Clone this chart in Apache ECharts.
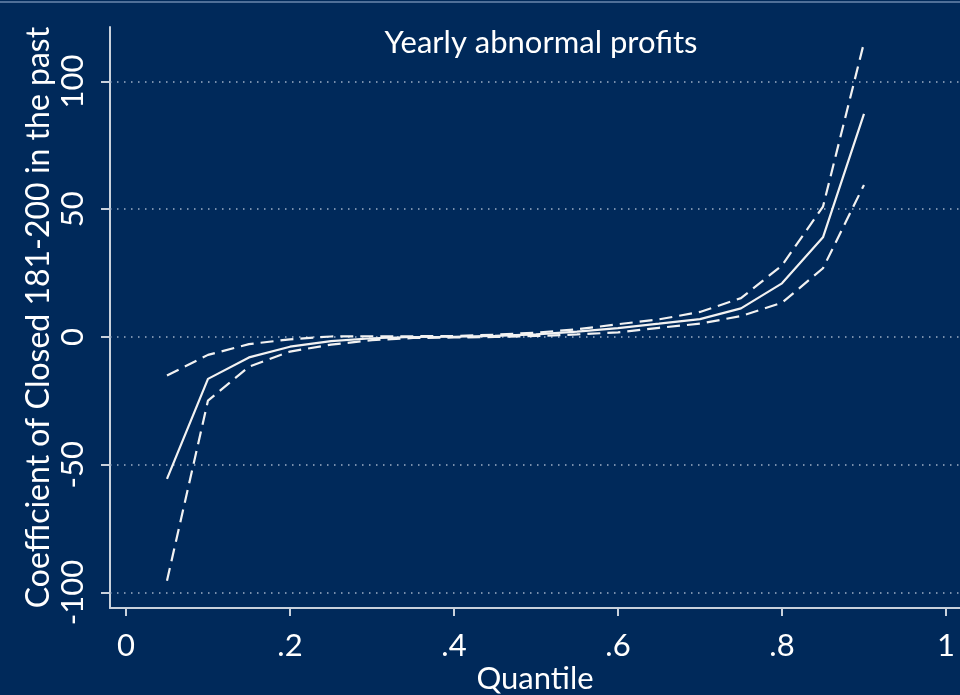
<!DOCTYPE html>
<html>
<head>
<meta charset="utf-8">
<script src="https://cdn.jsdelivr.net/npm/echarts@6/dist/echarts.min.js"></script>
<style>
  html, body { margin: 0; padding: 0; background: #00295a; }
  #chart { width: 960px; height: 695px; }
</style>
</head>
<body>
<div id="chart"></div>
<script>
// Quantile-regression coefficients with 95% confidence band
const quantiles = [0.05, 0.10, 0.15, 0.20, 0.25, 0.30, 0.35, 0.40, 0.45,
                   0.50, 0.55, 0.60, 0.65, 0.70, 0.75, 0.80, 0.85, 0.90];
const coefficient = [-55.5, -16.4, -8.0, -3.8, -1.6, -0.5, 0.0, 0.1, 0.4,
                     1.0, 2.1, 3.5, 5.2, 7.0, 11.2, 21.0, 39.0, 87.3];
const upperBound  = [-15.1, -7.0, -2.8, -0.9, 0.2, 0.3, 0.3, 0.4, 0.9,
                     1.7, 3.0, 5.0, 6.9, 9.8, 15.2, 28.0, 51.0, 115.2];
const lowerBound  = [-95.4, -24.9, -11.6, -5.7, -3.0, -1.2, -0.4, -0.2, 0.0,
                     0.4, 1.0, 1.8, 3.6, 5.2, 8.2, 13.4, 26.9, 59.5];

const xTicks = [0, 0.2, 0.4, 0.6, 0.8, 1];
const yTicks = [-100, -50, 0, 50, 100];

const titleText = 'Yearly abnormal profits';
const xTitle = 'Quantile';
const yTitle = 'Coefficient of Closed 181-200 in the past';

const FONT = 'Lato';
const INK = '#ffffff';
const AXIS = '#c9d1dc';

function pairs(ys) { return quantiles.map((q, i) => [q, ys[i]]); }
function fmtQ(v) {
  if (v === 0) return '0';
  if (v === 1) return '1';
  return String(Math.round(v * 10) / 10).replace(/^0/, '');
}

const chart = echarts.init(document.getElementById('chart'), null, { renderer: 'canvas' });

const lineBase = { type: 'line', symbol: 'none', silent: true, animation: false, z: 5 };

chart.setOption({
  backgroundColor: '#00295a',
  animation: false,
  title: {
    text: titleText,
    left: 536,
    top: 22,
    textAlign: 'center',
    textStyle: { color: INK, fontFamily: FONT, fontSize: 31, fontWeight: 'normal' }
  },
  grid: { left: 110, right: 0, top: 27, bottom: 87, containLabel: false, outerBoundsMode: 'none' },
  xAxis: {
    type: 'value',
    min: -0.0195,
    max: 1.0171,
    name: xTitle,
    nameLocation: 'middle',
    nameGap: 55,
    nameMoveOverlap: false,
    nameTextStyle: { color: INK, fontFamily: FONT, fontSize: 31 },
    axisLine: { show: true, onZero: false, lineStyle: { color: AXIS, width: 2 } },
    axisTick: { show: true, customValues: xTicks, length: 8, lineStyle: { color: AXIS, width: 2 } },
    axisLabel: { customValues: xTicks, color: INK, fontFamily: FONT, fontSize: 31, margin: 22, formatter: fmtQ },
    splitLine: { show: false }
  },
  yAxis: {
    type: 'value',
    min: -106.07,
    max: 121.33,
    name: yTitle,
    nameLocation: 'middle',
    nameRotate: 90,
    nameGap: 55,
    nameMoveOverlap: false,
    nameTextStyle: { color: INK, fontFamily: FONT, fontSize: 32 },
    axisLine: { show: true, onZero: false, lineStyle: { color: AXIS, width: 2 } },
    axisTick: { show: true, customValues: yTicks, length: 9, lineStyle: { color: AXIS, width: 2 } },
    axisLabel: { customValues: yTicks, color: INK, fontFamily: FONT, fontSize: 31, margin: 22, rotate: 90 },
    splitLine: { show: false }
  },
  series: [
    // dotted reference lines at the labelled y ticks
    {
      type: 'line', data: [], silent: true,
      markLine: {
        silent: true, symbol: 'none', label: { show: false },
        lineStyle: { color: '#9fb0c6', width: 1.5, type: [1.5, 5.5] },
        data: yTicks.map(v => ({ yAxis: v }))
      }
    },
    Object.assign({}, lineBase, {
      name: 'upper', data: pairs(upperBound),
      lineStyle: { color: '#f2f2f2', width: 2.2, type: [13, 7] }
    }),
    Object.assign({}, lineBase, {
      name: 'lower', data: pairs(lowerBound),
      lineStyle: { color: '#f2f2f2', width: 2.2, type: [13, 7] }
    }),
    Object.assign({}, lineBase, {
      name: 'coefficient', data: pairs(coefficient),
      lineStyle: { color: '#f2f2f2', width: 2.2, type: 'solid' }
    })
  ],
  graphic: [
    { type: 'rect', shape: { x: 0, y: 1, width: 960, height: 2 }, style: { fill: '#4f6f98' }, silent: true }
  ]
});
</script>
</body>
</html>
